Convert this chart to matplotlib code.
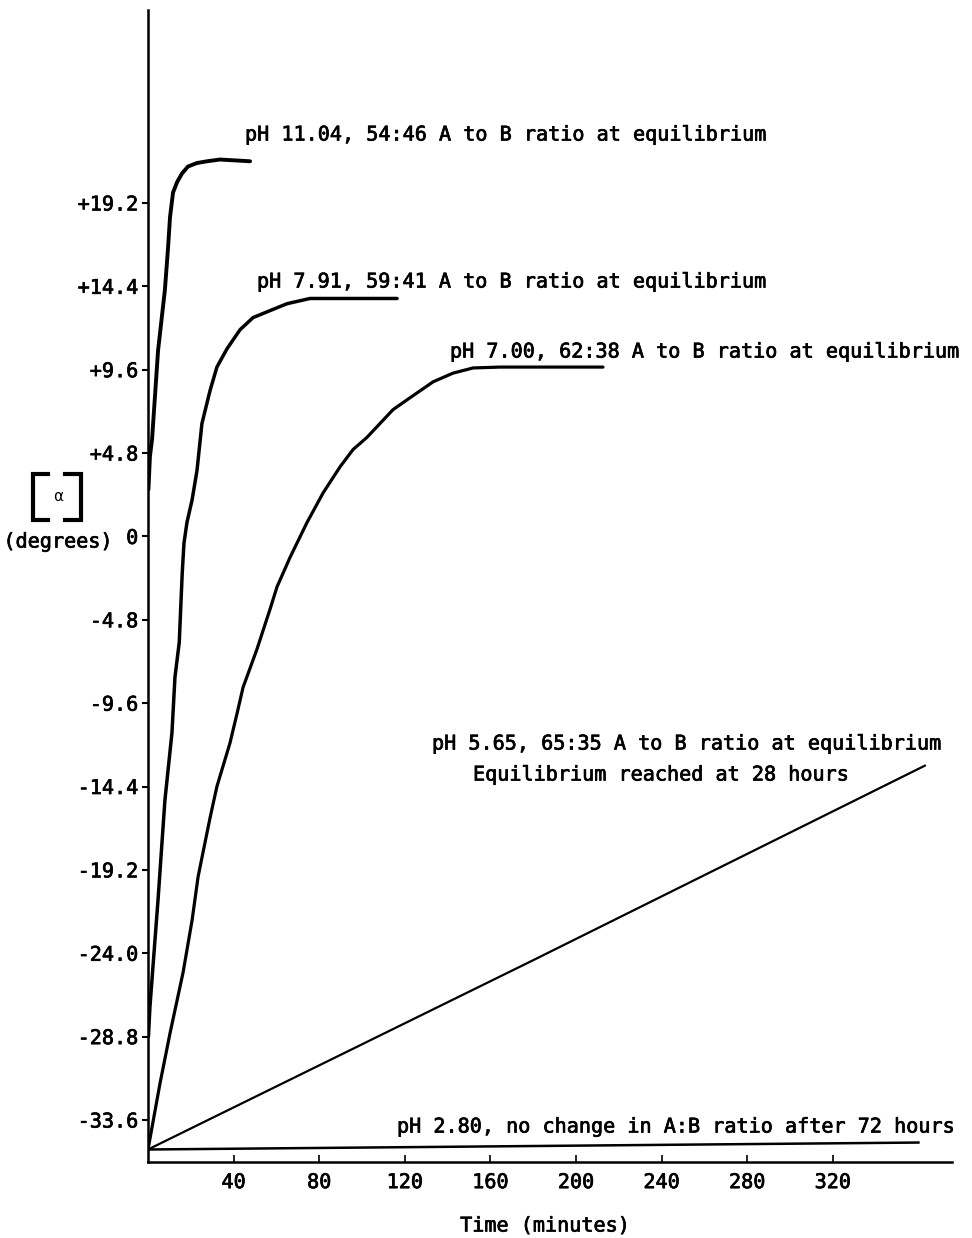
import matplotlib
matplotlib.use("Agg")
import matplotlib.pyplot as plt
from matplotlib.lines import Line2D
import matplotlib.patheffects as pe

# ---------------- data ----------------
t_1104 = [0.2, 0.9, 1.9, 4.7, 7.9, 9.3, 10.3, 11.7, 13.6, 15.9, 18.7, 22.9, 27.6, 33.6, 47.7]
a_1104 = [2.7, 4.6, 5.6, 10.7, 14.2, 16.5, 18.4, 19.8, 20.4, 20.9, 21.3, 21.5, 21.6, 21.7, 21.6]

t_791 = [0.2, 0.9, 2.3, 4.7, 7.9, 11.2, 12.6, 14.6, 16.0, 16.8, 18.2, 20.6, 22.9, 25.2,
         29.0, 32.2, 36.9, 43.0, 49.1, 57.0, 65.0, 75.7, 116.4]
a_791 = [-28.8, -27.1, -24.8, -20.9, -15.2, -11.3, -8.1, -6.1, -2.1, -0.4, 0.8, 2.1, 3.8, 6.5,
         8.4, 9.75, 10.8, 11.9, 12.6, 13.0, 13.4, 13.7, 13.7]

t_700 = [0, 5.6, 10.3, 16.4, 20.6, 23.4, 25.7, 29.0, 32.2, 38.3, 41.6, 44.4, 50.9,
         57.0, 60.3, 66.4, 74.3, 81.8, 89.7, 95.8, 102.3, 108.4, 114.5, 123.8, 133.2,
         142.5, 151.9, 164.5, 212.6]
a_700 = [-35.3, -31.5, -28.6, -25.1, -22.1, -19.6, -18.2, -16.2, -14.4, -11.9, -10.2, -8.7, -6.5,
         -4.2, -2.9, -1.2, 0.8, 2.5, 4.0, 5.0, 5.7, 6.5, 7.3, 8.1, 8.9,
         9.4, 9.7, 9.75, 9.75]

t_565 = [0, 180, 363]
a_565 = [-35.3, -24.4, -13.2]

t_280 = [0, 180, 360]
a_280 = [-35.3, -35.1, -34.9]

xticks = [40, 80, 120, 160, 200, 240, 280, 320]
yticks = [-33.6, -28.8, -24.0, -19.2, -14.4, -9.6, -4.8, 0, 4.8, 9.6, 14.4, 19.2]
ytick_labels = ["-33.6", "-28.8", "-24.0", "-19.2", "-14.4", "-9.6", "-4.8", "0",
                "+4.8", "+9.6", "+14.4", "+19.2"]

labels = [
    "pH 11.04, 54:46 A to B ratio at equilibrium",
    "pH 7.91, 59:41 A to B ratio at equilibrium",
    "pH 7.00, 62:38 A to B ratio at equilibrium",
    "pH 5.65, 65:35 A to B ratio at equilibrium",
    "Equilibrium reached at 28 hours",
    "pH 2.80, no change in A:B ratio after 72 hours",
]

# ---------------- figure ----------------
W, H = 972, 1238
plt.rcParams['font.family'] = ['DejaVu Sans Mono', 'DejaVu Sans']
FS = 14.5
heavy = [pe.withStroke(linewidth=0.5, foreground='black')]
fig = plt.figure(figsize=(W / 100, H / 100), dpi=100)

def fx(px):
    return px / W

def fy(py):
    return 1 - py / H

ax = fig.add_axes([fx(148), fy(1162), fx(952) - fx(148), fy(10) - fy(1162)])
ax.set_xlim(0, 375.7)
ax.set_ylim(-36.02, 30.31)

ax.plot(t_1104, a_1104, color='black', lw=2.8, solid_capstyle='round', solid_joinstyle='round')
ax.plot(t_791, a_791, color='black', lw=2.5, solid_capstyle='round', solid_joinstyle='round')
ax.plot(t_700, a_700, color='black', lw=2.3, solid_capstyle='round', solid_joinstyle='round')
ax.plot(t_565, a_565, color='black', lw=1.6)
ax.plot(t_280, a_280, color='black', lw=1.8)

for s in ['top', 'right']:
    ax.spines[s].set_visible(False)
for s in ['left', 'bottom']:
    ax.spines[s].set_linewidth(1.8)

ax.set_xticks(xticks)
ax.set_xticklabels([str(v) for v in xticks], fontsize=FS)
ax.set_yticks(yticks)
ax.set_yticklabels(ytick_labels, fontsize=FS)
ax.tick_params(axis='x', direction='in', length=5, width=1.2, pad=8)
ax.tick_params(axis='y', direction='out', length=4, width=1.5, pad=3)
for lab in ax.get_xticklabels() + ax.get_yticklabels():
    lab.set_path_effects(heavy)

# curve annotations
pos = [(245, 135), (257, 282), (450, 352), (432, 744), (473, 775), (397, 1127)]
for (px, py), txt in zip(pos, labels):
    fig.text(fx(px), fy(py), txt, fontsize=FS, va='center', ha='left', path_effects=heavy)

# axis titles
fig.text(fx(545), fy(1226), "Time (minutes)", fontsize=FS, va='center', ha='center',
         path_effects=heavy)
fig.text(fx(58), fy(542), "(degrees)", fontsize=FS, va='center', ha='center',
         path_effects=heavy)

# bracket [ α ]
lb = Line2D([fx(48), fx(33), fx(33), fx(48)], [fy(474), fy(474), fy(520), fy(520)],
            transform=fig.transFigure, color='black', lw=3.0, solid_joinstyle='miter')
rb = Line2D([fx(65), fx(81), fx(81), fx(65)], [fy(474), fy(474), fy(520), fy(520)],
            transform=fig.transFigure, color='black', lw=3.0, solid_joinstyle='miter')
fig.add_artist(lb)
fig.add_artist(rb)
fig.text(fx(58), fy(496), "α", fontsize=11, va='center', ha='center', family=['DejaVu Sans'])

fig.savefig("out.png", dpi=100)
